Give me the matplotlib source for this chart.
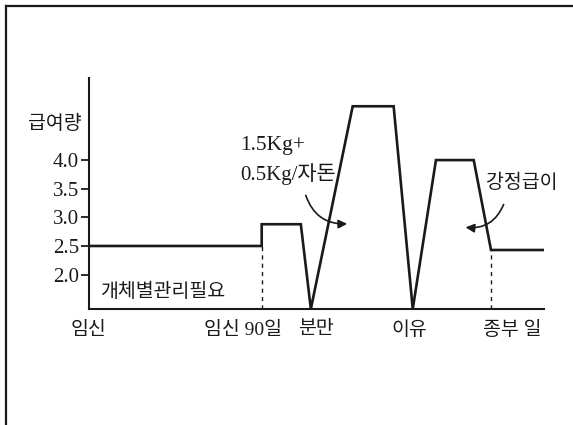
import matplotlib
matplotlib.use("Agg")
import matplotlib.pyplot as plt
from matplotlib.lines import Line2D

# feeding curve (x: position on the timeline 0..100, y: feed amount)
stage_x = [0, 38.0, 38.0, 46.6, 48.8, 58.0, 67.0, 71.2, 76.3, 84.6, 88.4, 100]
feed_y = [2.5, 2.5, 2.88, 2.88, 1.4, 4.94, 4.94, 1.4, 4.0, 4.0, 2.43, 2.43]

# dashed markers (x, height)
dash_x = [38.0, 88.4]
dash_y = [2.5, 2.43]

y_ticks = [2.0, 2.5, 3.0, 3.5, 4.0]
y_tick_labels = ["2.0", "2.5", "3.0", "3.5", "4.0"]

x_label_pos = [0, 33.8, 49.9, 70.5, 93.0]
x_labels = ["임신", "임신 90일", "분만", "이유", "종부 일"]

ink = "#1a1a1a"
kor = ["Noto Sans CJK KR", "DejaVu Sans"]
mixed = ["Liberation Serif", "Noto Sans CJK KR"]

fig = plt.figure(figsize=(5.73, 4.25), dpi=100)
ax = fig.add_axes([0.155, 0.273, 0.794, 0.543])

ax.plot(stage_x, feed_y, color=ink, lw=1.9, solid_joinstyle="miter")
for x, y in zip(dash_x, dash_y):
    ax.plot([x, x], [1.4, y], color=ink, lw=1.0, ls=(0, (3, 3)))

ax.set_xlim(0, 100)
ax.set_ylim(1.4, 5.43)
for s in ["top", "right"]:
    ax.spines[s].set_visible(False)
for s in ["left", "bottom"]:
    ax.spines[s].set_linewidth(1.5)
    ax.spines[s].set_color(ink)

ax.set_yticks(y_ticks)
ax.set_yticklabels(y_tick_labels, family="Liberation Serif", fontsize=15, color=ink)
ax.tick_params(axis="y", length=6, width=1.3, pad=1, color=ink)

ax.set_xticks(x_label_pos)
ax.set_xticklabels(x_labels, family=mixed, fontsize=14, color=ink)
ax.tick_params(axis="x", length=0, pad=9)

ax.text(-7.5, 4.64, "급여량", family=kor, fontsize=14, ha="center", va="center",
        color=ink, clip_on=False)
ax.text(2.4, 1.70, "개체별관리필요", family=kor, fontsize=14, ha="left", va="center",
        color=ink)
ax.text(33.2, 4.25, "1.5Kg+", family=mixed, fontsize=15.5, ha="left", va="center", color=ink)
ax.text(33.2, 3.75, "0.5Kg/자돈", family=mixed, fontsize=15, ha="left", va="center", color=ink)
ax.text(87.3, 3.60, "강정급이", family=kor, fontsize=14, ha="left", va="center",
        color=ink, clip_on=False)

ax.annotate("", xy=(57.4, 2.89), xytext=(47.5, 3.43),
            arrowprops=dict(arrowstyle="-|>", color=ink, lw=1.2, mutation_scale=13,
                            connectionstyle="arc3,rad=0.4"))
ax.annotate("", xy=(82.2, 2.83), xytext=(91.4, 3.27),
            arrowprops=dict(arrowstyle="-|>", color=ink, lw=1.2, mutation_scale=13,
                            connectionstyle="arc3,rad=-0.4"))

# outer frame (left and top edges)
fig.add_artist(Line2D([0.011, 0.011], [0.0, 0.987], color=ink, lw=1.6))
fig.add_artist(Line2D([0.011, 1.0], [0.987, 0.987], color=ink, lw=1.6))

fig.savefig("out.png", dpi=100, facecolor="white")
